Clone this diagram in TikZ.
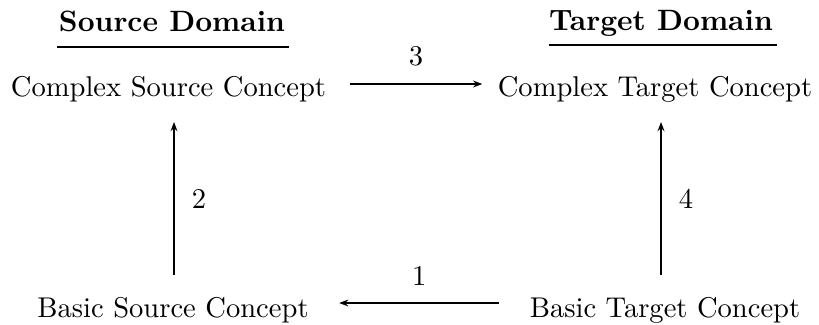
\documentclass[tikz,border=0pt]{standalone}
\usetikzlibrary{calc,arrows.meta}
\begin{document}
\begin{tikzpicture}[x=0.35pt,y=-0.35pt,
  lbl/.style={inner sep=0pt,anchor=base,font=\fontsize{10pt}{12pt}\selectfont},
  head/.style={inner sep=0pt,anchor=base,font=\fontsize{10.3pt}{12pt}\selectfont\bfseries},
  arr/.style={line width=0.5pt,-{Stealth[length=3.2pt,width=2.4pt]}},
  uline/.style={line width=0.7pt},
  num/.style={inner sep=0pt,font=\fontsize{10pt}{12pt}\selectfont}]
\useasboundingbox (0,0) rectangle (819,324);
\node[head] (hs) at (172,31) {Source Domain};
\node[head] (ht) at (661,30) {Target Domain};
\draw[uline] ($(hs.base west)+(-1,16)$) -- ($(hs.base east)+(3,16)$);
\draw[uline] ($(ht.base west)+(0,15)$) -- ($(ht.base east)+(4,15)$);
\node[lbl] (cs) at (168.5,96) {Complex Source Concept};
\node[lbl] (ct) at (655,96) {Complex Target Concept};
\node[lbl] (bs) at (173,317) {Basic Source Concept};
\node[lbl] (bt) at (665,317) {Basic Target Concept};
\draw[arr] ($(cs.base east)+(23,-12)$) -- node[num,midway,above=6pt] (n3) {3} ($(ct.base west)+(-15,-12)$);
\draw[arr] ($(bt.base west)+(-30,-14)$) -- node[num,midway,above=6pt] (n1) {1} ($(bs.base east)+(30,-14)$);
\draw[arr] ($(bs.base)+(1,-42)$) -- node[num,midway,right=6pt] (n2) {2} ($(cs.base)+(5.5,26)$);
\draw[arr] ($(bt.base)+(-4,-42)$) -- node[num,midway,right=6pt] (n4) {4} ($(ct.base)+(6,26)$);
\end{tikzpicture}
\end{document}
